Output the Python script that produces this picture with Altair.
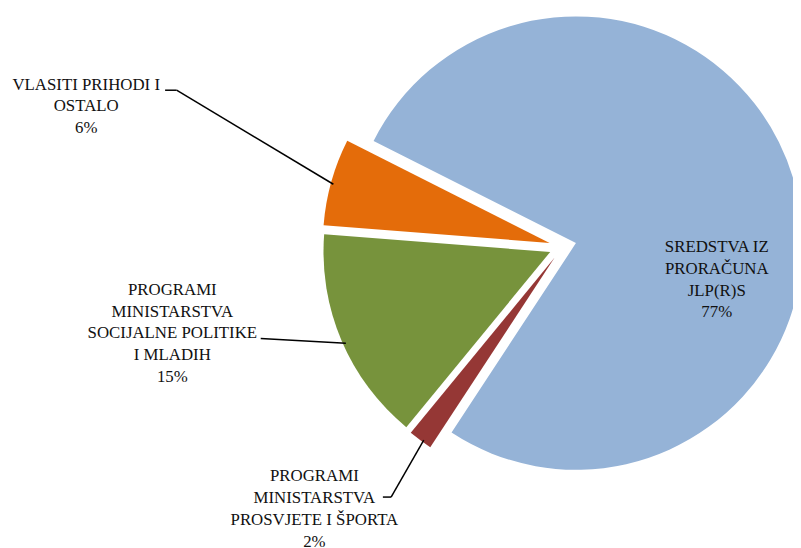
import math
import altair as alt
import pandas as pd

# ---- data ----
categories = [
    "SREDSTVA IZ PRORAČUNA JLP(R)S",
    "PROGRAMI MINISTARSTVA PROSVJETE I ŠPORTA",
    "PROGRAMI MINISTARSTVA SOCIJALNE POLITIKE I MLADIH",
    "VLASITI PRIHODI I OSTALO",
]
label_lines = [
    ["SREDSTVA IZ", "PRORAČUNA", "JLP(R)S"],
    ["PROGRAMI", "MINISTARSTVA", "PROSVJETE I ŠPORTA"],
    ["PROGRAMI", "MINISTARSTVA", "SOCIJALNE POLITIKE", "I MLADIH"],
    ["VLASITI PRIHODI I", "OSTALO"],
]
values = [76.8, 1.7, 15.3, 6.2]
pct_labels = ["77%", "2%", "15%", "6%"]

# ---- styles / layout ----
colors = ["#95B3D7", "#953735", "#77933C", "#E46C0A"]
W, H = 793, 540
CX, CY = 560.4, 238.3
R = 229
EXPLODE = 13.8
START = math.radians(296.8)
# position of the first line of each label
label_pos = [(716, 238.7), (309.5, 470.3), (166, 282), (79, 74.7)]
leaders = [
    [],
    [(378.7, 491.3), (387, 491.3), (420, 433.7)],
    [(255.3, 331), (341.3, 336)],
    [(158.7, 80.3), (170.3, 80.3), (328.7, 175.3)],
]
FONT = "Liberation Serif"

df = pd.DataFrame({"category": categories, "value": values, "order": list(range(len(values)))})
total = sum(values)
theta_scale = alt.Scale(domain=[0, total], range=[START, START + 2 * math.pi])

layers = []
cum = 0.0
for i, cat in enumerate(categories):
    mid = START + (cum + values[i] / 2) / total * 2 * math.pi
    cum += values[i]
    dx = EXPLODE * math.sin(mid)
    dy = -EXPLODE * math.cos(mid)
    sel = alt.Chart().transform_filter(alt.datum.category == cat)
    layers.append(
        sel.mark_arc(radius=R, color=colors[i], xOffset=dx, yOffset=dy).encode(
            theta=alt.Theta("start:Q", scale=theta_scale, stack=None),
            theta2="end:Q",
            x=alt.value(CX),
            y=alt.value(CY),
        )
    )

for i, cat in enumerate(categories):
    sel = alt.Chart().transform_filter(alt.datum.category == cat)
    pts = leaders[i]
    for a, b in zip(pts[:-1], pts[1:]):
        layers.append(
            sel.mark_rule(color="black", strokeWidth=1.5).encode(
                x=alt.value(a[0]), y=alt.value(a[1]), x2=alt.value(b[0]), y2=alt.value(b[1])
            )
        )
    lx, ly = label_pos[i]
    layers.append(
        sel.mark_text(
            text=label_lines[i] + [pct_labels[i]],
            font=FONT,
            fontSize=17,
            lineHeight=22,
            align="center",
            baseline="middle",
            color="#111111",
        ).encode(x=alt.value(lx), y=alt.value(ly))
    )

chart = (
    alt.layer(*layers, data=df)
    .transform_window(cum="sum(value)", sort=[alt.SortField("order")], frame=[None, 0])
    .transform_calculate(start="datum.cum - datum.value", end="datum.cum")
    .properties(width=W, height=H, autosize=alt.AutoSizeParams(type="none"), padding=0)
    .configure_view(stroke=None)
)

chart.save("out.html", embed_options={"renderer": "svg", "actions": False})
